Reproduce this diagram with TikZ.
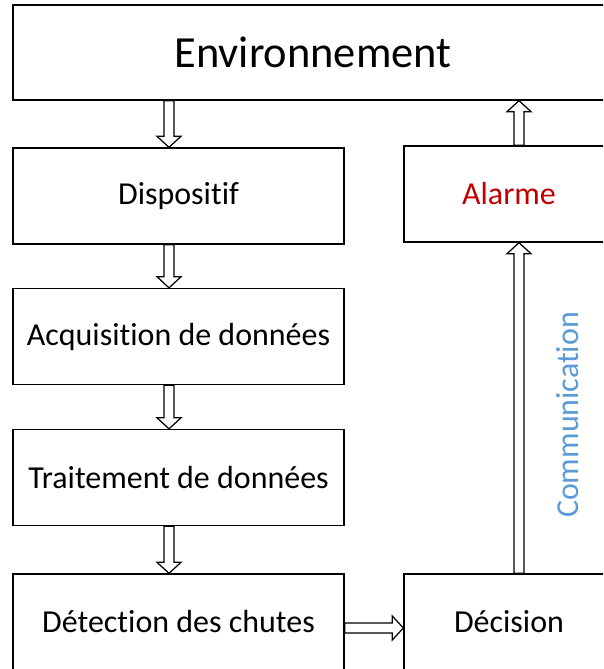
\documentclass[tikz,border=0pt]{standalone}
\usepackage{fontspec}
\setmainfont[Ligatures=NoCommon]{Carlito}
\usepackage{xcolor}
\usetikzlibrary{positioning,calc}
\definecolor{alarmred}{HTML}{C00000}
\definecolor{commblue}{HTML}{5B9BD5}

\begin{document}
\begin{tikzpicture}[x=0.02cm, y=-0.02cm,
        block/.style={draw, line width=0.8pt, rectangle, minimum width=6.62cm, minimum height=1.92cm, align=center, font=\fontsize{18.2}{22}\selectfont},
        hollow/.style={draw, line width=0.7pt, fill=white, to path={
            ($(\tikztostart)!0.1cm!90:(\tikztotarget)$)
            -- ($($(\tikztotarget)!0.22cm!(\tikztostart)$)!0.1cm!90:(\tikztotarget)$)
            -- ($($(\tikztotarget)!0.22cm!(\tikztostart)$)!0.24cm!90:(\tikztotarget)$)
            -- (\tikztotarget)
            -- ($($(\tikztotarget)!0.22cm!(\tikztostart)$)!0.24cm!-90:(\tikztotarget)$)
            -- ($($(\tikztotarget)!0.22cm!(\tikztostart)$)!0.1cm!-90:(\tikztotarget)$)
            -- ($(\tikztostart)!0.1cm!-90:(\tikztotarget)$) -- cycle}}
    ]
        \clip (0,0) rectangle (603,669);

        \node [block, minimum width=12cm, minimum height=1.9cm, font=\fontsize{25.3}{30}\selectfont] (env) at (313,52.5) {Environnement};
        \node [block] (dis) at (178.5,196) {Dispositif};
        \node [block] (acq) at (178.5,336.5) {Acquisition de données};
        \node [block] (trt) at (178.5,477.5) {Traitement de données};
        \node [block] (det) at (178.5,622) {Détection des chutes};
        \node [block, minimum width=4.2cm, text=alarmred] (ala) at (509,194) {Alarme};
        \node [block, minimum width=4.2cm] (dec) at (509,622) {Décision};

        % hollow block arrows
        \path [hollow] ([xshift=-0.19cm]dis.north |- env.south) to ([xshift=-0.19cm]dis.north);
        \path [hollow] ([xshift=-0.19cm]dis.south) to ([xshift=-0.19cm]acq.north);
        \path [hollow] ([xshift=-0.19cm]acq.south) to ([xshift=-0.19cm]trt.north);
        \path [hollow] ([xshift=-0.19cm]trt.south) to ([xshift=-0.19cm]det.north);
        \path [hollow] ([yshift=-0.12cm]det.east) to ([yshift=-0.12cm]dec.west);
        \path [hollow] ([xshift=0.2cm]dec.north) to ([xshift=0.2cm]ala.south);
        \path [hollow] ([xshift=0.2cm]ala.north) to ([xshift=0.2cm]ala.north |- env.south);

        \node [rotate=90, text=commblue, font=\fontsize{18.2}{22}\selectfont] (comm) at (568,415) {Communication};
    \end{tikzpicture}
\end{document}
